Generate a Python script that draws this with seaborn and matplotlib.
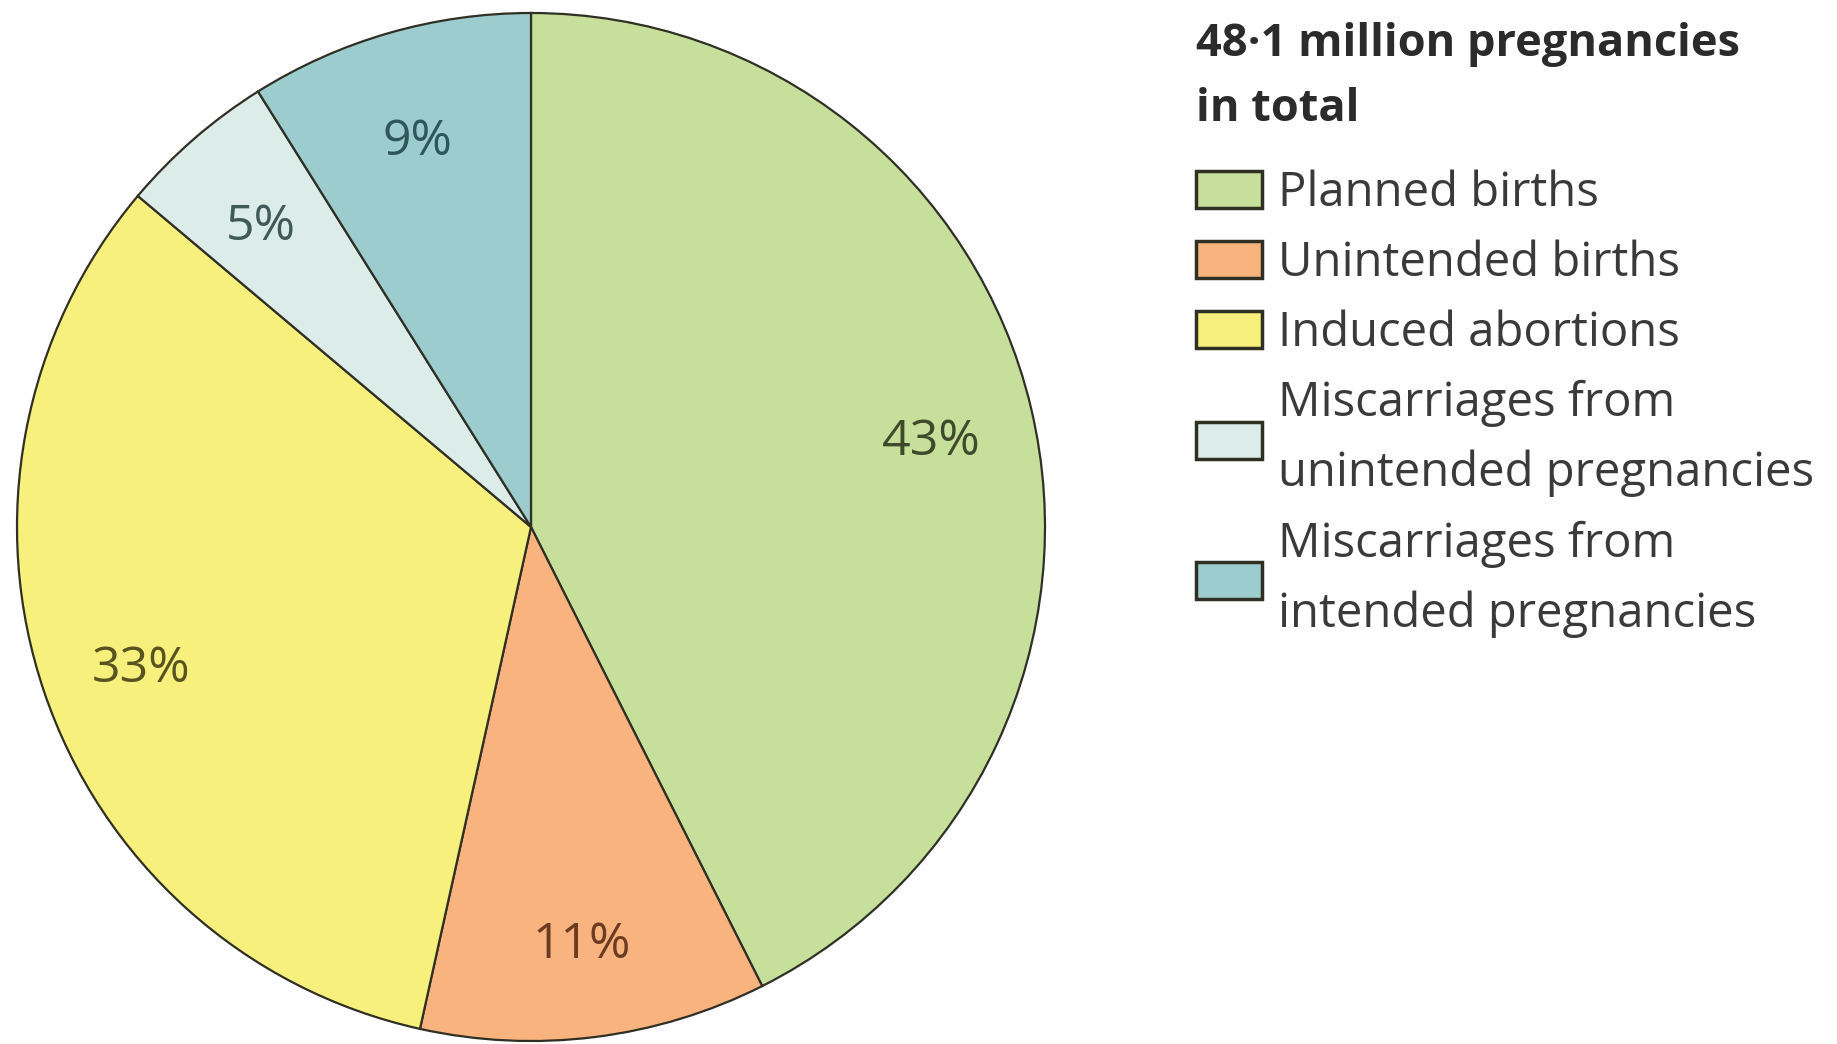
import matplotlib
matplotlib.use("Agg")
import numpy as np
import matplotlib.pyplot as plt
import seaborn as sns

# data
categories = ["Planned births", "Unintended births", "Induced abortions",
              "Miscarriages from\nunintended pregnancies",
              "Miscarriages from\nintended pregnancies"]
shares = [43, 11, 33, 5, 9]
pct_labels = ["43%", "11%", "33%", "5%", "9%"]
colors = ["#c6e09c", "#f9b37e", "#f8f07c", "#dcece8", "#9ccccd"]
label_colors = ["#3f4a2c", "#6b3b22", "#58531f", "#3f5a58", "#2f5658"]
title = "48\u00b71 million pregnancies\nin total"

sns.set_theme(style="white")
plt.rcParams["font.family"] = ["Open Sans", "DejaVu Sans"]

fig = plt.figure(figsize=(18.37, 10.44), dpi=100)
fig.patch.set_facecolor("white")

# pie centred at about (531, 527) px with radius ~514 px
r_px = 514
cx, cy = 531, 527
ax = fig.add_axes([(cx - r_px) / 1837, (1044 - cy - r_px) / 1044,
                   2 * r_px / 1837, 2 * r_px / 1044])

wedges, texts = ax.pie(shares, colors=colors, startangle=90, counterclock=False,
                       wedgeprops=dict(edgecolor="#2f2f24", linewidth=1.6))

# percentage labels placed along each wedge's mid angle
for w, lab, c in zip(wedges, pct_labels, label_colors):
    mid = np.deg2rad((w.theta1 + w.theta2) / 2)
    ax.text(0.8 * np.cos(mid), 0.8 * np.sin(mid) - 0.02, lab, ha="center",
            va="center", fontsize=36, color=c)

ax.set_xlim(-1.0, 1.0)
ax.set_ylim(-1.0, 1.0)
ax.set_aspect("equal")
ax.axis("off")

leg = fig.legend(wedges, categories, title=title, loc="upper left",
                 bbox_to_anchor=(1196 / 1837, 1 - 22 / 1044),
                 frameon=False, fontsize=34, title_fontsize=32.5,
                 alignment="left", handlelength=1.39, handleheight=0.82,
                 handletextpad=0.35, labelspacing=0.48, borderpad=0,
                 borderaxespad=0)
# wider gap between title and entries
leg._legend_box.sep = 26.5
leg.get_title().set_fontweight("bold")
leg.get_title().set_color("#2b2b2b")
leg.get_title().set_linespacing(1.6)
for t in leg.get_texts():
    t.set_color("#3a3a3a")
    t.set_linespacing(1.62)
for h in leg.legend_handles:
    h.set_linewidth(2.5)
    h.set_edgecolor("#2f2f24")

fig.savefig("out.png", dpi=100, facecolor="white")
